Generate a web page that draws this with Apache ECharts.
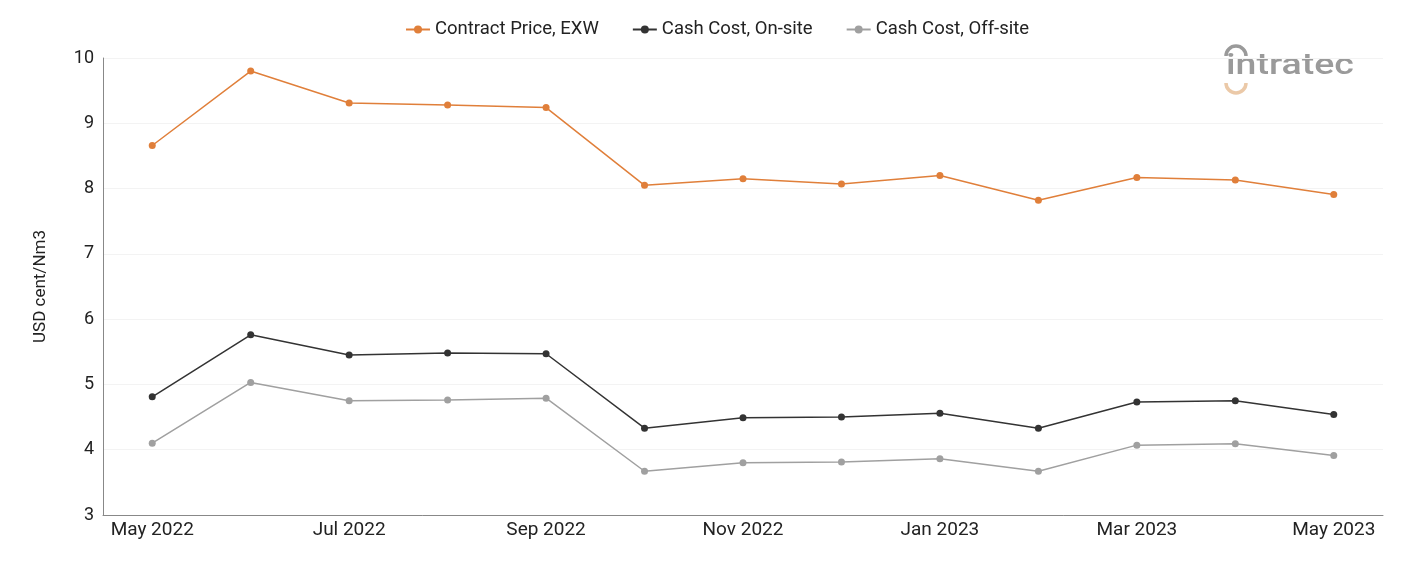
<!DOCTYPE html>
<html lang="en">
<head>
    <meta charset="UTF-8">
    <title>Contract Price and Cash Cost</title>
    <script src="https://cdn.jsdelivr.net/npm/echarts@6/dist/echarts.min.js"></script>
    <style>
        html, body { margin: 0; padding: 0; background: #fff; }
        #chart { width: 1401px; height: 561px; }
    </style>
</head>
<body>
<div id="chart"></div>
<script>
    var months = ['May 2022', 'Jun 2022', 'Jul 2022', 'Aug 2022', 'Sep 2022', 'Oct 2022', 'Nov 2022',
        'Dec 2022', 'Jan 2023', 'Feb 2023', 'Mar 2023', 'Apr 2023', 'May 2023'];
    var contractPrice = [8.66, 9.80, 9.31, 9.28, 9.24, 8.05, 8.15, 8.07, 8.20, 7.82, 8.17, 8.13, 7.91];
    var cashOnSite = [4.81, 5.76, 5.45, 5.48, 5.47, 4.33, 4.49, 4.50, 4.56, 4.33, 4.73, 4.75, 4.54];
    var cashOffSite = [4.10, 5.03, 4.75, 4.76, 4.79, 3.67, 3.80, 3.81, 3.86, 3.67, 4.07, 4.09, 3.91];

    var names = ['Contract Price, EXW', 'Cash Cost, On-site', 'Cash Cost, Off-site'];
    var colors = ['#e07f3a', '#333333', '#a0a0a0'];
    var values = [contractPrice, cashOnSite, cashOffSite];

    var series = [];
    for (var i = 0; i < names.length; i++) {
        series.push({
            name: names[i],
            type: 'line',
            data: values[i],
            symbol: 'circle',
            symbolSize: 7,
            lineStyle: { width: 1.5, color: colors[i] },
            itemStyle: { color: colors[i] }
        });
    }

    var chart = echarts.init(document.getElementById('chart'));
    chart.setOption({
        animation: false,
        textStyle: { fontFamily: 'Roboto' },
        color: colors,
        legend: {
            top: 15,
            left: 400,
            itemGap: 33,
            itemWidth: 24,
            itemHeight: 10,
            textStyle: { fontSize: 18.5, color: '#222' },
            data: names
        },
        grid: { left: 103, right: 18, top: 58, bottom: 46 },
        xAxis: {
            type: 'category',
            data: months,
            boundaryGap: true,
            axisLine: { lineStyle: { color: '#888', width: 1 } },
            axisTick: { show: false },
            axisLabel: { interval: 1, fontSize: 19, color: '#222', margin: 6 }
        },
        yAxis: {
            type: 'value',
            name: 'USD cent/Nm3',
            nameLocation: 'middle',
            nameGap: 54,
            nameTextStyle: { fontSize: 17, color: '#222' },
            min: 3,
            max: 10,
            interval: 1,
            axisLine: { show: true, lineStyle: { color: '#888', width: 1 } },
            axisTick: { show: false },
            axisLabel: { fontSize: 18, color: '#222', margin: 9 },
            splitLine: { lineStyle: { color: '#f3f3f3' } }
        },
        graphic: [
            {
                type: 'text',
                x: 1226,
                y: 51,
                scaleX: 1.25,
                style: { text: 'intratec', fontSize: 30, fontFamily: 'Roboto', fill: '#9a9a9a', fontWeight: 500 }
            },
            {
                type: 'arc',
                shape: { cx: 1236, cy: 56, r: 10, startAngle: Math.PI, endAngle: 0 },
                style: { stroke: '#9a9a9a', lineWidth: 3.5, fill: null }
            },
            {
                type: 'arc',
                shape: { cx: 1236, cy: 83, r: 10, startAngle: 0, endAngle: Math.PI },
                style: { stroke: '#ebc9a8', lineWidth: 3.5, fill: null }
            }
        ],
        series: series
    });
</script>
</body>
</html>
